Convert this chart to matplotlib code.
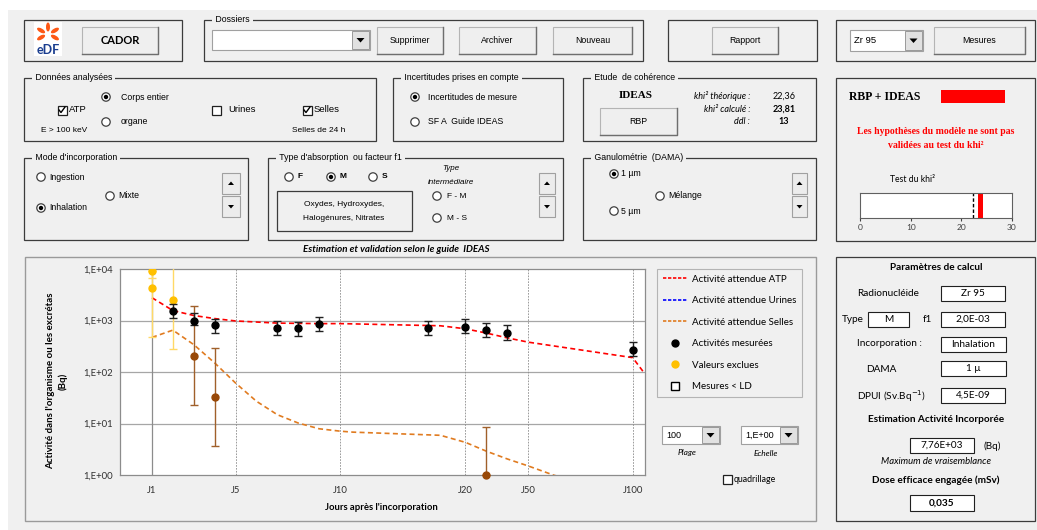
import numpy as np
import matplotlib
matplotlib.use("Agg")
import matplotlib.pyplot as plt
from matplotlib.patches import Rectangle, Circle, Polygon, Ellipse
from matplotlib.lines import Line2D

# ---- chart data ----
tick_days = [1, 5, 10, 20, 50, 100]
tick_labels = ["J1", "J5", "J10", "J20", "J50", "J100"]
y_ticks = [1e0, 1e1, 1e2, 1e3, 1e4]
y_tick_labels = ["1,E+00", "1,E+01", "1,E+02", "1,E+03", "1,E+04"]

atp_days = [2, 3, 4, 7, 8, 9, 17, 20, 30, 40, 100]
atp_values = [1520, 1000, 800, 700, 700, 840, 720, 760, 650, 580, 270]
atp_low = [1130, 800, 580, 530, 510, 620, 530, 560, 480, 420, 200]
atp_high = [2100, 1410, 1060, 990, 950, 1180, 1000, 1080, 900, 810, 380]

excl_days = [1, 1, 2]
excl_values = [9100, 4200, 2450]
excl_low = [6600, 480, 276]
excl_high = [12000, 9000, 15000]

selles_days = [3, 4, 30]
selles_values = [208, 33, 1.0]
selles_low = [22.7, 3.6, 1.0]
selles_high = [1900, 290, 8.7]

fit_atp_days = [1, 2, 3, 4, 5, 7, 9, 10, 11, 18, 20, 30, 40, 50, 100, 105.5]
fit_atp_values = [2770, 1560, 1250, 1090, 980, 890, 870, 870, 860, 790, 690, 570, 460, 380, 190, 96]

fit_selles_days = [1, 2, 3, 4, 5, 6, 7, 8, 9, 10, 11, 18, 20, 30, 40, 50, 62, 70]
fit_selles_values = [470, 650, 340, 150, 61, 27, 14.8, 10.2, 7.9, 7.1, 6.8, 5.9, 4.3, 2.9, 2.05, 1.5, 1.0, 0.8]

khi2_theorique = 22.36
khi2_calcule = 23.81
ddl = 13

BG = "#f0f0f0"
EDGE = "#3c3c3c"
UI_FONT = ["Liberation Sans", "DejaVu Sans"]
CH_FONT = ["Lato", "DejaVu Sans"]
SERIF = ["Liberation Serif", "DejaVu Serif"]

W, H = 1037, 530
fig = plt.figure(figsize=(W / 100, H / 100), dpi=100)
fig.patch.set_facecolor("white")

ui = fig.add_axes([0, 0, 1, 1])
ui.set_xlim(0, W)
ui.set_ylim(H, 0)
ui.axis("off")
ui.set_zorder(0)

ui.add_patch(Rectangle((8, 10), W - 8, H - 10, facecolor=BG, edgecolor="none"))


def txt(x, y, s, size=6.3, ha="left", va="center", family=UI_FONT, **kw):
    ui.text(x, y, s, fontsize=size, ha=ha, va=va, family=family, **kw)


def group(x0, y0, x1, y1, title=None):
    ui.add_patch(Rectangle((x0, y0), x1 - x0, y1 - y0, facecolor="none",
                           edgecolor=EDGE, lw=0.9))
    if title:
        ui.text(x0 + 9, y0, " " + title + " ", fontsize=6.3, ha="left", va="center",
                family=UI_FONT, bbox=dict(facecolor=BG, edgecolor="none", pad=0.5))


def button(x0, y0, x1, y1, label, size=6.3, **kw):
    ui.add_patch(Rectangle((x0, y0), x1 - x0, y1 - y0, facecolor="#efefef",
                           edgecolor="#b4b4b4", lw=0.8))
    ui.plot([x0, x1, x1], [y1, y1, y0], color="#6e6e6e", lw=1.0)
    txt((x0 + x1) / 2, (y0 + y1) / 2, label, size=size, ha="center", **kw)


def radio(x, y, filled=False):
    ui.add_patch(Circle((x, y), 4.2, facecolor="white", edgecolor="#404040", lw=0.9))
    if filled:
        ui.add_patch(Circle((x, y), 2.2, facecolor="black", edgecolor="none"))


def checkbox(x, y, checked=False):
    ui.add_patch(Rectangle((x - 4.5, y - 4.5), 9, 9, facecolor="white",
                           edgecolor="#202020", lw=0.9))
    if checked:
        ui.plot([x - 3, x - 1, x + 3], [y, y + 2.5, y - 3], color="black", lw=1.0)


def combo(x0, y0, x1, y1, text, size=6.5):
    ui.add_patch(Rectangle((x0, y0), x1 - x0, y1 - y0, facecolor="white",
                           edgecolor="#a0a0a0", lw=0.8))
    bx = x1 - 18
    ui.add_patch(Rectangle((bx, y0 + 1), 17, y1 - y0 - 2, facecolor="#e1e1e1",
                           edgecolor="#8c8c8c", lw=0.6))
    cx, cy = bx + 8.5, (y0 + y1) / 2
    ui.add_patch(Polygon([[cx - 4, cy - 2], [cx + 4, cy - 2], [cx, cy + 2.5]],
                         facecolor="black", edgecolor="none"))
    if text:
        txt(x0 + 4, (y0 + y1) / 2, text, size=size)


def spin(x0, y0, x1, y1):
    ym = (y0 + y1) / 2
    for a, b, up in [(y0, ym - 1, True), (ym + 1, y1, False)]:
        ui.add_patch(Rectangle((x0, a), x1 - x0, b - a, facecolor="#ececec",
                               edgecolor="#a0a0a0", lw=0.8))
        cx, cy = (x0 + x1) / 2, (a + b) / 2
        if up:
            pts = [[cx - 3, cy + 1.5], [cx + 3, cy + 1.5], [cx, cy - 2]]
        else:
            pts = [[cx - 3, cy - 1.5], [cx + 3, cy - 1.5], [cx, cy + 2]]
        ui.add_patch(Polygon(pts, facecolor="black", edgecolor="none"))


def box(x0, y0, x1, y1, text, size=7.2, **kw):
    ui.add_patch(Rectangle((x0, y0), x1 - x0, y1 - y0, facecolor="white",
                           edgecolor="#202020", lw=0.8))
    txt((x0 + x1) / 2, (y0 + y1) / 2, text, size=size, ha="center", family=CH_FONT, **kw)


# ---- top row ----
group(24, 20, 182, 61)
ui.add_patch(Rectangle((34, 22), 28, 34, facecolor="white", edgecolor="none"))
for ang in [90, 30, -30, 150, 210]:
    r = np.deg2rad(ang)
    ui.add_patch(Ellipse((48 + 8 * np.cos(r), 34 - 7 * np.sin(r)), 9, 4, angle=-ang,
                         facecolor="#fe5815", edgecolor="none"))
txt(48, 50, "eDF", size=9, ha="center", color="#1a3d8f", weight="bold", family=CH_FONT)
button(82, 27, 158, 54, "CADOR", size=8, weight="bold", family=CH_FONT)

group(204, 20, 643, 61, "Dossiers")
combo(212, 30, 370, 50, "")
button(377, 27, 443, 54, "Supprimer")
button(459, 27, 536, 54, "Archiver")
button(553, 27, 632, 54, "Nouveau")

group(668, 20, 817, 61)
button(712, 27, 778, 54, "Rapport")

group(836, 20, 1035, 61)
combo(850, 30, 923, 51, "Zr 95", size=6.8)
button(934, 27, 1025, 54, "Mesures")

# ---- Données analysées ----
group(24, 78, 376, 141, "Données analysées")
radio(106, 97, True)
txt(121, 97, "Corps entier")
checkbox(62, 110, True)
txt(69, 110, "ATP", size=6.8)
txt(64, 130, "E > 100 keV", ha="center", size=6)
radio(106, 122)
txt(121, 122, "organe")
checkbox(216, 110)
txt(228, 110, "Urines", size=6.8)
checkbox(307, 110, True)
txt(314, 110, "Selles", size=6.8)
txt(319, 130, "Selles de 24 h", ha="center", size=6)

group(393, 78, 563, 141, "Incertitudes prises en compte")
radio(415, 97, True)
txt(428, 97, "Incertitudes de mesure")
radio(415, 122)
txt(428, 122, "SF A  Guide IDEAS")

group(583, 78, 816, 141, "Etude  de cohérence")
txt(636, 96, "IDEAS", size=8, ha="center", weight="bold", family=SERIF)
button(600, 108, 677, 135, "RBP")
txt(750, 96, "khi² théorique :", ha="right", style="italic", size=6.5, family=CH_FONT)
txt(750, 109, "khi² calculé :", ha="right", style="italic", size=6.5, family=CH_FONT)
txt(750, 122, "ddl :", ha="right", style="italic", size=6.5, family=CH_FONT)
txt(784, 96, f"{khi2_theorique:.2f}".replace(".", ","), ha="center", size=6.5, family=CH_FONT)
txt(784, 109, f"{khi2_calcule:.2f}".replace(".", ","), ha="center", size=6.5,
    weight="bold", family=CH_FONT)
txt(784, 122, str(ddl), ha="center", size=6.5, weight="bold", family=CH_FONT)

# ---- right panel (khi² test) ----
group(836, 78, 1035, 241)
txt(849, 97, "RBP + IDEAS", size=8.5, weight="bold", family=SERIF)
ui.add_patch(Rectangle((941, 90), 64, 13, facecolor="#ff0000", edgecolor="none"))
txt(936, 131, "Les hypothèses du modèle ne sont pas", ha="center", size=7,
    weight="bold", color="#ff0000", family=SERIF)
txt(936, 145, "validées au test du khi²", ha="center", size=7,
    weight="bold", color="#ff0000", family=SERIF)
txt(913, 180, "Test du khi²", ha="center", size=6.2, family=CH_FONT)

# ---- second row ----
group(24, 158, 248, 240, "Mode d'incorporation")
radio(41, 177)
txt(49, 177, "Ingestion")
radio(110, 196)
txt(118, 196, "Mixte")
radio(41, 208, True)
txt(49, 208, "Inhalation")
spin(222, 173, 240, 217)

group(268, 158, 563, 240, "Type d'absorption  ou facteur f1")
radio(289, 177)
txt(298, 177, "F", size=6, weight="bold")
radio(331, 177, True)
txt(340, 177, "M", size=6, weight="bold")
radio(373, 177)
txt(382, 177, "S", size=6, weight="bold")
txt(451, 168, "Type", ha="center", size=5.8, style="italic")
txt(451, 182, "intermédiaire", ha="center", size=5.8, style="italic")
radio(437, 196)
txt(447, 196, "F - M", size=6)
radio(437, 218)
txt(447, 218, "M - S", size=6)
ui.add_patch(Rectangle((277, 191), 135, 40, facecolor="none", edgecolor=EDGE, lw=0.9))
txt(344, 204, "Oxydes, Hydroxydes,", ha="center", size=6)
txt(344, 218, "Halogénures, Nitrates", ha="center", size=6)
spin(539, 173, 555, 217)

group(583, 158, 816, 240, "Ganulométrie  (DAMA)")
radio(614, 174, True)
txt(621, 174, "1 µm")
radio(660, 196)
txt(668, 196, "Mélange")
radio(614, 211)
txt(621, 211, "5 µm")
spin(792, 173, 807, 217)

txt(396, 249, "Estimation et validation selon le guide  IDEAS", ha="center",
    size=7, weight="bold", style="italic", family=CH_FONT)

# ---- chart frame + controls ----
ui.add_patch(Rectangle((25, 257), 791, 264, facecolor="none", edgecolor="#9a9a9a", lw=1.0))
combo(662, 426, 720, 444, "100", size=6.5)
txt(687, 453, "Plage", ha="center", size=6, style="italic", family=CH_FONT)
combo(741, 426, 798, 444, "1,E+00", size=6.5)
txt(766, 453, "Echelle", ha="center", size=6, style="italic", family=CH_FONT)
checkbox(727, 479)
txt(734, 479, "quadrillage", size=6.3, family=CH_FONT)

txt(57, 381, "Activité dans l'organisme ou les excrétas\n(Bq)", ha="center",
    size=7, weight="bold", rotation=90, family=CH_FONT, multialignment="center",
    linespacing=1.35)
txt(381, 508, "Jours après l'incorporation", ha="center", size=6.8, weight="bold",
    family=CH_FONT)

# ---- parameters panel ----
group(836, 257, 1035, 521)
txt(936, 267, "Paramètres de calcul", ha="center", size=7.2, weight="bold", family=CH_FONT)
txt(888, 293, "Radionucléide", ha="center", size=7.2, family=CH_FONT)
box(941, 286, 1005, 301, "Zr 95")
txt(853, 320, "Type", ha="center", size=7.2, family=CH_FONT)
box(868, 312, 909, 327, "M")
txt(927, 320, "f1", ha="center", size=7.2, family=CH_FONT)
box(941, 312, 1005, 327, "2,0E-03")
txt(889, 344, "Incorporation :", ha="center", size=7.2, family=CH_FONT)
box(941, 337, 1006, 352, "Inhalation")
txt(881, 370, "DAMA", ha="center", size=7.2, family=CH_FONT)
box(941, 361, 1006, 376, "1 µ")
txt(891, 396, "DPUI (Sv.Bq$^{-1}$)", ha="center", size=7.2, family=CH_FONT)
box(941, 388, 1005, 403, "4,5E-09")
txt(936, 419, "Estimation Activité Incorporée", ha="center", size=7.2, weight="bold",
    family=CH_FONT)
box(910, 438, 974, 453, "7,76E+03")
txt(992, 446, "(Bq)", ha="center", size=7.2, family=CH_FONT)
txt(936, 461, "Maximum de vraisemblance", ha="center", size=6.8, style="italic",
    family=CH_FONT)
txt(936, 480, "Dose efficace engagée (mSv)", ha="center", size=7.2, weight="bold",
    family=CH_FONT)
box(910, 495, 974, 511, "0,035", weight="bold")

# ---- khi² bar ----
kx = fig.add_axes([860 / W, 1 - 218 / H, 152 / W, 25 / H])
kx.set_facecolor("white")
kx.set_xlim(0, 30)
kx.set_ylim(0, 1)
kx.axvline(khi2_theorique, color="black", ls=(0, (2.5, 1.5)), lw=1.0)
kx.axvspan(khi2_calcule - 0.5, khi2_calcule + 0.5, color="#ff0000", lw=0)
kx.set_yticks([])
kx.set_xticks([0, 10, 20, 30])
kx.tick_params(axis="x", labelsize=6, length=2, pad=2, colors="#404040")
for lab in kx.get_xticklabels():
    lab.set_family(CH_FONT)
for s in kx.spines.values():
    s.set_color("#606060")
    s.set_linewidth(0.8)

# ---- main chart ----
knots_d = [-5, 1, 10, 20, 200]
knots_u = [-6, 0, 9, 15, 33]


def fwd(d):
    return np.interp(d, knots_d, knots_u)


def inv(u):
    return np.interp(u, knots_u, knots_d)


ax = fig.add_axes([120 / W, 1 - 475 / H, 525 / W, 206 / H])
ax.set_zorder(2)
ax.set_facecolor("white")
ax.set_xscale("function", functions=(fwd, inv))
ax.set_yscale("log")
ax.set_xlim(-0.53, 105.9)
ax.set_ylim(1, 1e4)

for y in y_ticks[1:-1]:
    ax.axhline(y, color="#a6a6a6", lw=0.9, zorder=0)
ax.axvline(tick_days[0], color="#8c8c8c", lw=0.9, zorder=0)
for d in tick_days[1:]:
    ax.axvline(d, color="#8c8c8c", lw=0.6, ls=(0, (2, 1.5)), zorder=0)

ax.plot(fit_atp_days, fit_atp_values, color="#ff0000", ls=(0, (3, 2)), lw=1.2, zorder=2)
ax.plot(fit_selles_days, fit_selles_values, color="#e07b20", ls=(0, (3, 2)), lw=1.2, zorder=2)


def yerr(vals, lo, hi):
    v = np.array(vals)
    return [v - np.array(lo), np.array(hi) - v]


ax.errorbar(excl_days, excl_values, yerr=yerr(excl_values, excl_low, excl_high), fmt="o",
            color="#ffc000", ecolor="#ffd966", ms=5, capsize=3, elinewidth=1.0, zorder=3)
ax.errorbar(selles_days[:2], selles_values[:2],
            yerr=yerr(selles_values[:2], selles_low[:2], selles_high[:2]), fmt="o",
            color="#984807", ecolor="#a0602a", ms=5, capsize=3, elinewidth=1.0, zorder=3)
ax.errorbar(selles_days[2:], selles_values[2:],
            yerr=yerr(selles_values[2:], selles_low[2:], selles_high[2:]), fmt="none",
            ecolor="#a0602a", capsize=3, elinewidth=1.0, zorder=3)
ax.plot(selles_days[2:], selles_values[2:], "o", color="#984807", ms=5, clip_on=False, zorder=4)
ax.errorbar(atp_days, atp_values, yerr=yerr(atp_values, atp_low, atp_high), fmt="o",
            color="black", ecolor="#202020", ms=5, capsize=3, elinewidth=1.0, zorder=4)

ax.set_xticks(tick_days)
ax.set_xticklabels(tick_labels)
ax.set_yticks(y_ticks)
ax.set_yticklabels(y_tick_labels)
ax.minorticks_off()
ax.tick_params(length=0, labelsize=6.8, colors="#303030")
ax.tick_params(axis="x", pad=8)
ax.tick_params(axis="y", pad=5)
for lab in ax.get_xticklabels() + ax.get_yticklabels():
    lab.set_family(CH_FONT)
for s in ax.spines.values():
    s.set_color("#8c8c8c")
    s.set_linewidth(0.9)

handles = [
    Line2D([], [], color="#ff0000", ls=(0, (2, 1)), lw=1.2),
    Line2D([], [], color="#0000ff", ls=(0, (2, 1)), lw=1.2),
    Line2D([], [], color="#e07b20", ls=(0, (2, 1)), lw=1.2),
    Line2D([], [], ls="none", marker="o", color="black", ms=5),
    Line2D([], [], ls="none", marker="o", color="#ffc000", ms=5),
    Line2D([], [], ls="none", marker="s", mfc="white", mec="black", ms=6),
]
labels = ["Activité attendue ATP", "Activité attendue Urines", "Activité attendue Selles",
          "Activités mesurées", "Valeurs exclues", "Mesures < LD"]
leg = fig.legend(handles, labels, loc="upper left", bbox_to_anchor=(657 / W, 1 - 269 / H),
                 frameon=True, fancybox=False, facecolor=BG, edgecolor="#a6a6a6",
                 prop={"family": CH_FONT, "size": 7}, handlelength=2.6, handletextpad=0.4,
                 labelspacing=1.28, borderpad=0.6, borderaxespad=0)
leg.get_frame().set_linewidth(0.8)

fig.savefig("out.png", dpi=100, facecolor=fig.get_facecolor())
